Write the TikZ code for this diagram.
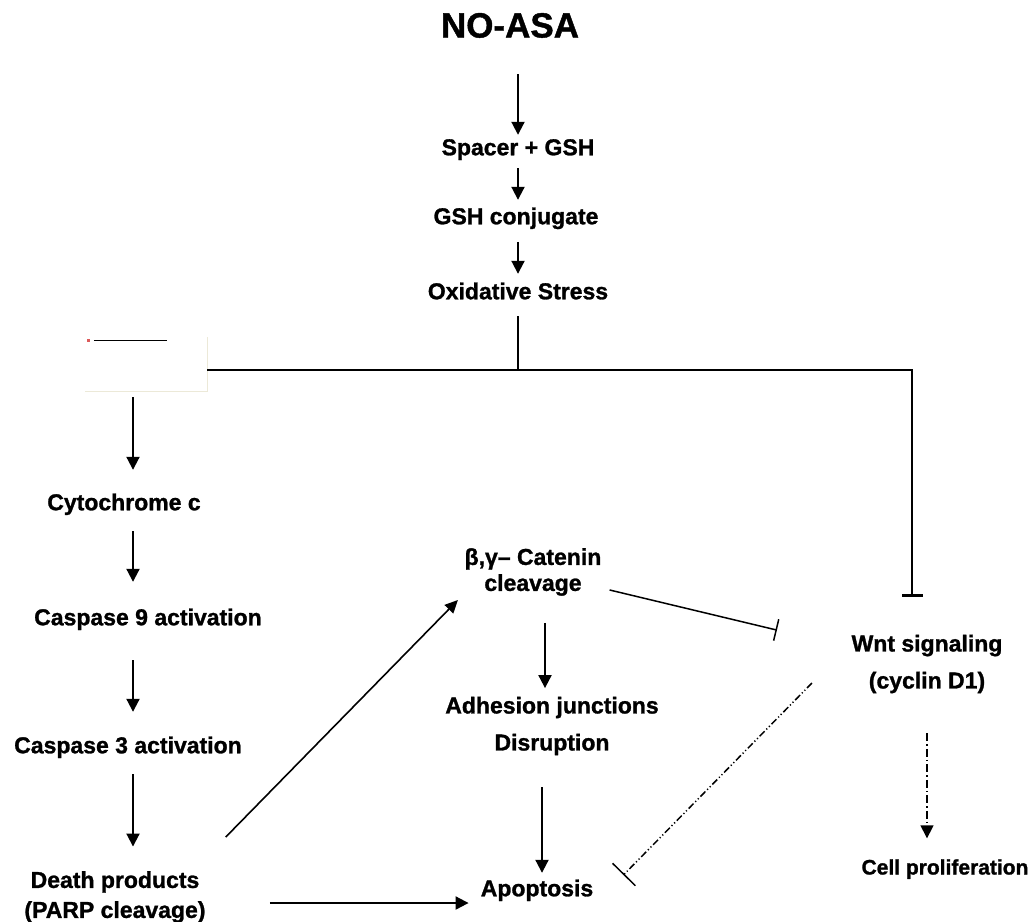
\documentclass[tikz,border=0pt]{standalone}
\usepackage{fontspec}
\setmainfont{Liberation Sans}[BoldFeatures={FakeBold=1.2}]
\usetikzlibrary{arrows.meta,calc}
\definecolor{beige}{RGB}{236,233,216}
\definecolor{iconred}{RGB}{220,90,90}
\begin{document}
\begin{tikzpicture}[x=1pt,y=-1pt,
  lbl/.style={font=\fontsize{23}{27}\selectfont\bfseries, inner sep=0pt, text height=16.5pt, text depth=0pt},
  lbltwo/.style={font=\fontsize{23}{#1}\selectfont\bfseries, inner sep=0pt, align=center},
  arr/.style={line width=2pt, -{Triangle[length=13pt,width=13pt]}},
  thinarr/.style={line width=1.6pt, -{Triangle[length=13pt,width=12pt]}},
  thickline/.style={line width=2.6pt},
  inh/.style={line width=1.5pt},
  dashdot/.style={dash pattern=on 8pt off 3pt on 1.5pt off 3pt},
  dashdotdot/.style={dash pattern=on 7pt off 2.5pt on 1.2pt off 2.5pt on 1.2pt off 2.5pt}]
\useasboundingbox (0,0) rectangle (1032,921);

% nodes
\node[font=\fontsize{35}{40}\selectfont\bfseries, inner sep=0pt, text height=25pt, text depth=0pt] (noasa) at (510,25) {NO-ASA};
\node[lbl] (spacer) at (518,147) {Spacer + GSH};
\node[lbl] (conj) at (516,216) {GSH conjugate};
\node[lbl] (ox) at (518,291) {Oxidative Stress};
\node[minimum width=122pt, minimum height=54pt, inner sep=0pt] (ph) at (146,364) {};
\node[lbl] (cyto) at (124,502) {Cytochrome c};
\node[lbl] (casp9) at (148,617) {Caspase 9 activation};
\node[lbl] (casp3) at (128,745) {Caspase 3 activation};
\node[lbltwo=30] (death) at (115,897) {Death products\\(PARP cleavage)};
\node[lbltwo=26] (catenin) at (533,572) {β,γ– Catenin\\cleavage};
\node[lbltwo=37] (adh) at (552,726) {Adhesion junctions\\Disruption};
\node[lbl] (apop) at (537,888) {Apoptosis};
\node[lbltwo=37] (wnt) at (927,664) {Wnt signaling\\(cyclin D1)};
\node[lbl, font=\fontsize{21}{25}\selectfont\bfseries, text height=15pt] (cell) at (945,867) {Cell proliferation};

% placeholder box
\draw[beige, line width=1pt] (ph.north east) -- (ph.south east) -- (ph.south west);
\fill[iconred] ([shift={(2,2)}]ph.north west) rectangle ([shift={(5,5)}]ph.north west);
\draw[line width=1.5pt] ([shift={(9,3.5)}]ph.north west) -- ([shift={(82,3.5)}]ph.north west);

% column coordinates
\coordinate (colA) at (518,0);
\coordinate (colL) at (133,0);
\coordinate (colM) at (545,0);
\coordinate (colN) at (542,0);
\coordinate (j) at (518,370);
\coordinate (corner) at (912,370);

% top chain
\draw[arr, shorten <=36.5pt, shorten >=3.75pt] (noasa.south -| colA) -- (spacer.north -| colA);
\draw[arr, shorten <=12.75pt, shorten >=7.75pt] (spacer.south -| colA) -- (conj.north -| colA);
\draw[arr, shorten <=17.5pt, shorten >=8.75pt] (conj.south -| colA) -- (ox.north -| colA);
\draw[thickline, shorten <=17pt] (ox.south -| colA) -- (j);
\draw[thickline, -{Bar[width=21pt,line width=3pt]}, shorten >=38pt] (ph.east |- j) -- (corner) -- (corner |- wnt.north);

% left chain
\draw[arr, shorten <=6pt, shorten >=23.75pt] (ph.south -| colL) -- (cyto.north -| colL);
\draw[arr, shorten <=20.75pt, shorten >=26.75pt] (cyto.south -| colL) -- (casp9.north -| colL);
\draw[arr, shorten <=34.75pt, shorten >=24.75pt] (casp9.south -| colL) -- (casp3.north -| colL);
\draw[arr, shorten <=20.75pt, shorten >=24.5pt] (casp3.south -| colL) -- (death.north -| colL);

% death products outputs
\draw[thinarr] ([shift={(20,-34)}]death.north east) -- ([shift={(-6.5,4)}]catenin.south west);
\coordinate (h0) at ([shift={(0,6)}]death.east);
\draw[arr, shorten <=64pt, shorten >=12pt] (h0) -- (h0 -| apop.west);

% middle chain
\draw[arr, shorten <=27pt, shorten >=8.5pt] (catenin.south -| colM) -- (adh.north -| colM);
\draw[arr, shorten <=32pt, shorten >=6.75pt] (adh.south -| colN) -- (apop.north -| colN);

% inhibitions
\draw[inh, -{Bar[width=22pt,line width=1.5pt]}] ([shift={(8,-6)}]catenin.south east) -- ([shift={(-74.5,-4.5)}]wnt.north west);
\draw[inh, dashdotdot, -{Bar[width=32pt,line width=1.5pt]}] ([shift={(-39.5,19)}]wnt.west) -- ([shift={(30,-13)}]apop.east);

% wnt -> proliferation
\draw[arr, dashdot, line width=1.5pt, shorten <=40pt] (wnt.south) -- ([shift={(0,-21)}]cell.north -| wnt.south);
\end{tikzpicture}
\end{document}
